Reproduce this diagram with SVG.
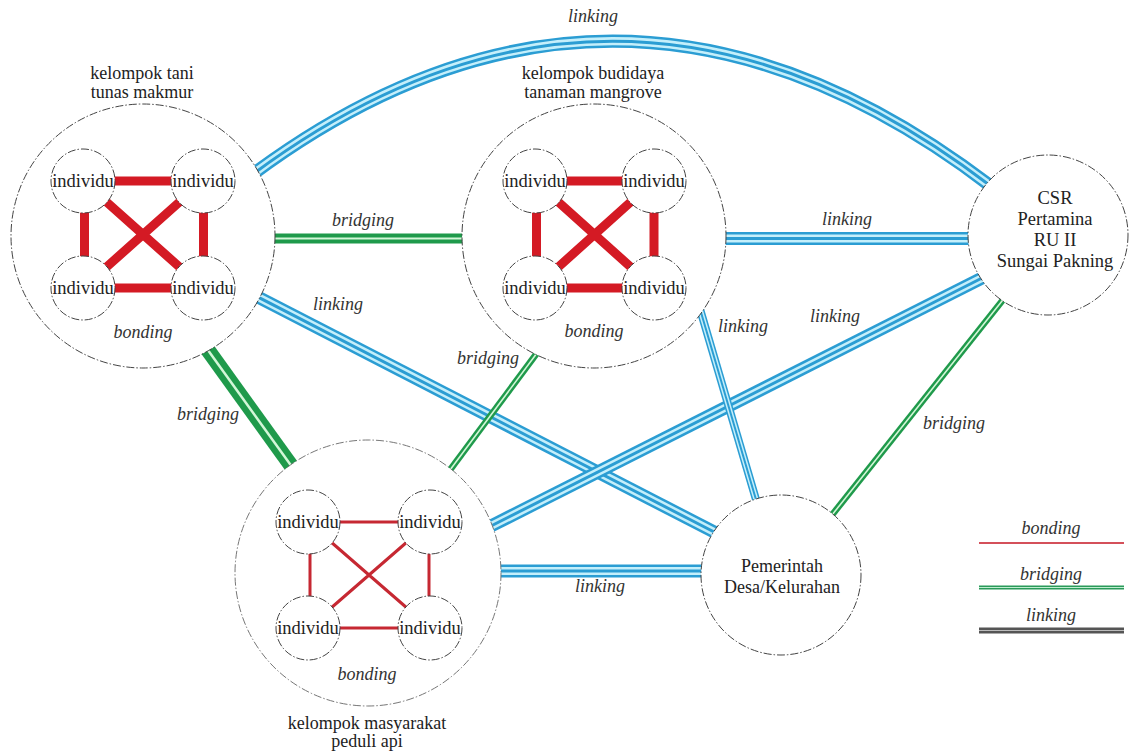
<svg xmlns="http://www.w3.org/2000/svg" xmlns:xlink="http://www.w3.org/1999/xlink" width="1129" height="756" viewBox="0 0 1129 756" font-family="'Liberation Serif', 'DejaVu Serif', serif">
<style>
  text { font-family: "Liberation Serif", "Times New Roman", "DejaVu Serif", serif; fill: #222; }
  .t { font-family: "Liberation Serif", "DejaVu Serif", serif; font-size: 18px; text-anchor: middle; }
  .ind { font-family: "Liberation Serif", "DejaVu Serif", serif; font-size: 18.5px; text-anchor: middle; }
  .lbl { font-family: "Liberation Serif", "DejaVu Serif", serif; font-size: 18px; font-style: italic; text-anchor: middle; fill: #333; }
  .csr { font-family: "Liberation Serif", "DejaVu Serif", serif; font-size: 18.5px; text-anchor: middle; }
  .big { fill: #fff; stroke: #444; stroke-width: 1; stroke-dasharray: 8 2 1.5 2; }
  .sm { fill: #fff; stroke: #444; stroke-width: 1; stroke-dasharray: 8 2 1.5 2; }
  .bthick { stroke: #d41a24; stroke-width: 9; fill: none; }
  .bthin { stroke: #c62832; stroke-width: 3; fill: none; }
  .b1 { stroke: #2b9dd3; stroke-width: 13; fill: none; }
  .b2 { stroke: #c4effb; stroke-width: 8; fill: none; }
  .b3 { stroke: #2b9dd3; stroke-width: 3; fill: none; }
  .tb1 { stroke: #2b9dd3; stroke-width: 8; fill: none; }
  .tb2 { stroke: #c4effb; stroke-width: 5; fill: none; }
  .tb3 { stroke: #2b9dd3; stroke-width: 2; fill: none; }
  .g1 { stroke: #1f9a4b; stroke-width: 10; fill: none; }
  .g2 { stroke: #d3f7d8; stroke-width: 2; fill: none; }
  .gt1 { stroke: #1f9a4b; stroke-width: 15; fill: none; }
  .gt2 { stroke: #d3f7d8; stroke-width: 2.5; fill: none; }
  .gs1 { stroke: #1f9a4b; stroke-width: 6.5; fill: none; }
  .gs2 { stroke: #d3f7d8; stroke-width: 1.6; fill: none; }
</style>
<defs>
  <path id="p-arc" d="M253,174 Q620,-98 992,187"/>
  <path id="p-br1" d="M270,238.5 L468,238.5"/>
  <path id="p-lk2" d="M720,238.5 L976,238.5"/>
  <path id="p-lk3" d="M252,294 L720,535"/>
  <path id="p-br4" d="M205,346 L295,471"/>
  <path id="p-br5" d="M540,349 L447,474"/>
  <path id="p-lk6" d="M700,309 L757,503"/>
  <path id="p-lk7" d="M488,527.5 L988,275"/>
  <path id="p-lk8" d="M495,571 L708,571"/>
  <path id="p-br9" d="M1006,296 L832,515"/>
</defs>
<rect width="1129" height="756" fill="#fff"/>

<g id="connectors">
  <g id="c-arc"><use xlink:href="#p-arc" class="b1"/><use xlink:href="#p-arc" class="b2"/><use xlink:href="#p-arc" class="b3"/></g>
  <g id="c-br1"><use xlink:href="#p-br1" class="g1"/><use xlink:href="#p-br1" class="g2"/></g>
  <g id="c-lk2"><use xlink:href="#p-lk2" class="b1"/><use xlink:href="#p-lk2" class="b2"/><use xlink:href="#p-lk2" class="b3"/></g>
  <g id="c-lk3"><use xlink:href="#p-lk3" class="b1"/><use xlink:href="#p-lk3" class="b2"/><use xlink:href="#p-lk3" class="b3"/></g>
  <g id="c-lk7"><use xlink:href="#p-lk7" class="b1"/><use xlink:href="#p-lk7" class="b2"/><use xlink:href="#p-lk7" class="b3"/></g>
  <g id="c-lk6"><use xlink:href="#p-lk6" class="tb1"/><use xlink:href="#p-lk6" class="tb2"/><use xlink:href="#p-lk6" class="tb3"/></g>
  <g id="c-br5"><use xlink:href="#p-br5" class="gs1"/><use xlink:href="#p-br5" class="gs2"/></g>
  <g id="c-br4"><use xlink:href="#p-br4" class="gt1"/><use xlink:href="#p-br4" class="gt2"/></g>
  <g id="c-lk8"><use xlink:href="#p-lk8" class="b1"/><use xlink:href="#p-lk8" class="b2"/><use xlink:href="#p-lk8" class="b3"/></g>
  <g id="c-br9"><use xlink:href="#p-br9" class="gs1"/><use xlink:href="#p-br9" class="gs2"/></g>

  <text class="lbl" x="593" y="22">linking</text>
  <text class="lbl" x="363" y="226">bridging</text>
  <text class="lbl" x="847" y="225">linking</text>
  <text class="lbl" x="338" y="310">linking</text>
  <text class="lbl" x="208" y="420">bridging</text>
  <text class="lbl" x="488" y="364">bridging</text>
  <text class="lbl" x="743" y="332">linking</text>
  <text class="lbl" x="835" y="322">linking</text>
  <text class="lbl" x="600" y="592">linking</text>
  <text class="lbl" x="954" y="429">bridging</text>
</g>

<g id="node-tani">
  <circle class="big" cx="143" cy="236" r="132"/>
  <text class="t" x="142" y="79">kelompok tani</text>
  <text class="t" x="142" y="98">tunas makmur</text>
  <path class="bthick" d="M83,181 L203,181 M83,288 L203,288 M84.5,181 L84.5,288 M203.5,181 L203.5,288 M83,181 L203,288 M203,181 L83,288"/>
  <circle class="sm" cx="83" cy="181" r="32"/>
  <circle class="sm" cx="203" cy="181" r="32"/>
  <circle class="sm" cx="83" cy="288" r="32"/>
  <circle class="sm" cx="203" cy="288" r="32"/>
  <text class="ind" x="83" y="187">individu</text>
  <text class="ind" x="203" y="187">individu</text>
  <text class="ind" x="83" y="294">individu</text>
  <text class="ind" x="203" y="294">individu</text>
  <text class="lbl" x="143" y="338">bonding</text>
</g>

<g id="node-budidaya">
  <circle class="big" cx="594" cy="236" r="132"/>
  <text class="t" x="593" y="79">kelompok budidaya</text>
  <text class="t" x="593" y="98">tanaman mangrove</text>
  <path class="bthick" d="M535,181 L654,181 M535,288 L654,288 M536.5,181 L536.5,288 M654,181 L654,288 M535,181 L654,288 M654,181 L535,288"/>
  <circle class="sm" cx="535" cy="181" r="32"/>
  <circle class="sm" cx="654" cy="181" r="32"/>
  <circle class="sm" cx="535" cy="288" r="32"/>
  <circle class="sm" cx="654" cy="288" r="32"/>
  <text class="ind" x="535" y="187">individu</text>
  <text class="ind" x="654" y="187">individu</text>
  <text class="ind" x="535" y="294">individu</text>
  <text class="ind" x="654" y="294">individu</text>
  <text class="lbl" x="594" y="337">bonding</text>
</g>

<g id="node-masyarakat">
  <circle class="big" cx="368" cy="573" r="133" style="stroke:#777"/>
  <path class="bthin" d="M308,522 L430,522 M308,628 L430,628 M310,522 L310,628 M429,522 L429,628 M308,522 L430,628 M430,522 L308,628"/>
  <circle class="sm" cx="308" cy="522" r="32"/>
  <circle class="sm" cx="430" cy="522" r="32"/>
  <circle class="sm" cx="308" cy="628" r="32"/>
  <circle class="sm" cx="430" cy="628" r="32"/>
  <text class="ind" x="308" y="528">individu</text>
  <text class="ind" x="430" y="528">individu</text>
  <text class="ind" x="308" y="634">individu</text>
  <text class="ind" x="430" y="634">individu</text>
  <text class="lbl" x="367" y="680">bonding</text>
  <text class="t" x="367" y="729">kelompok masyarakat</text>
  <text class="t" x="367" y="747">peduli api</text>
</g>

<g id="node-csr">
  <circle class="big" cx="1048" cy="235" r="80"/>
  <text class="csr" x="1055" y="204">CSR</text>
  <text class="csr" x="1055" y="225">Pertamina</text>
  <text class="csr" x="1055" y="246">RU II</text>
  <text class="csr" x="1055" y="267">Sungai Pakning</text>
</g>

<g id="node-pemerintah">
  <circle class="big" cx="781" cy="575" r="80"/>
  <text class="t" x="782" y="572">Pemerintah</text>
  <text class="t" x="782" y="593">Desa/Kelurahan</text>
</g>

<g id="legend">
  <text class="lbl" x="1051" y="534">bonding</text>
  <line x1="979" y1="543" x2="1124" y2="543" stroke="#d4505a" stroke-width="2"/>
  <text class="lbl" x="1051" y="580">bridging</text>
  <line x1="979" y1="587.5" x2="1124" y2="587.5" stroke="#2a9a5a" stroke-width="4"/>
  <line x1="979" y1="587.5" x2="1124" y2="587.5" stroke="#bfeed0" stroke-width="1"/>
  <text class="lbl" x="1051" y="621">linking</text>
  <line x1="979" y1="630.5" x2="1124" y2="630.5" stroke="#555" stroke-width="6"/>
  <line x1="979" y1="630.5" x2="1124" y2="630.5" stroke="#bbb" stroke-width="1.2"/>
</g>
</svg>
